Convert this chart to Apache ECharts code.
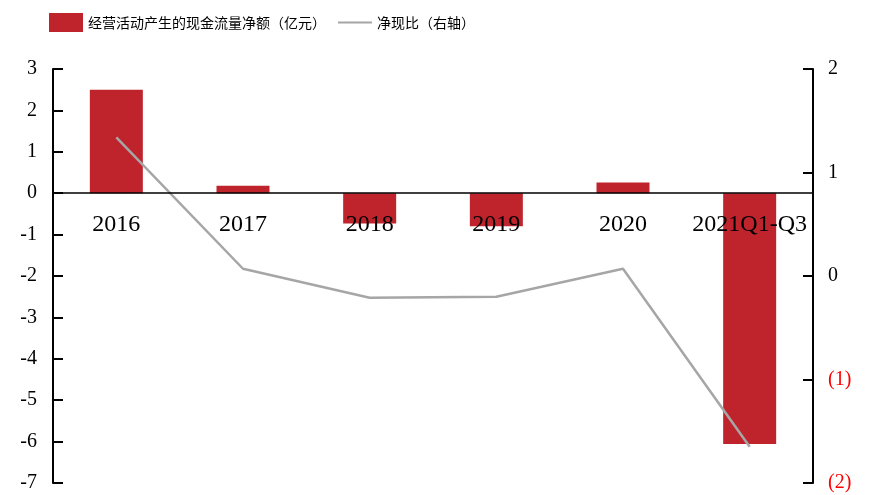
<!DOCTYPE html>
<html>
<head>
<meta charset="utf-8">
<script src="https://cdn.jsdelivr.net/npm/echarts@6/dist/echarts.min.js"></script>
<style>
  html, body { margin: 0; padding: 0; background: #fff; }
  #chart { width: 870px; height: 495px; }
</style>
</head>
<body>
<div id="chart"></div>
<script>
// 年份 / 区间
const categories = ['2016', '2017', '2018', '2019', '2020', '2021Q1-Q3'];
// 经营活动产生的现金流量净额（亿元）
const operatingCashFlow = [2.50, 0.18, -0.73, -0.80, 0.26, -6.06];
// 净现比
const netCashRatio = [1.34, 0.07, -0.21, -0.20, 0.07, -1.65];
// 刻度
const leftTicks = { min: -7, max: 3, step: 1 };
const rightTicks = { min: -2, max: 2, step: 1 };

const barName = '经营活动产生的现金流量净额（亿元）';
const lineName = '净现比（右轴）';
const serif = '"Liberation Serif", "Times New Roman", serif';
const cjk = '"Noto Sans CJK SC", sans-serif';

const W = 870, H = 495;
const gridBox = { left: 53, right: 57, top: 69, bottom: 12 };
const plotHeight = H - gridBox.top - gridBox.bottom;
// 分类轴放在左轴 0 值处：由底边上移的距离
const zeroLift = plotHeight * (0 - leftTicks.min) / (leftTicks.max - leftTicks.min);

const chart = echarts.init(document.getElementById('chart'), null, { renderer: 'canvas' });

const axisLineStyle = { color: '#000', width: 2 };

chart.setOption({
  animation: false,
  backgroundColor: '#fff',
  legend: {
    top: 8,
    left: 44,
    itemWidth: 34,
    itemHeight: 19,
    itemGap: 11,
    textStyle: { fontFamily: cjk, fontSize: 14, color: '#000' },
    data: [
      { name: barName, icon: 'rect' },
      { name: lineName, itemStyle: { opacity: 0 } }
    ]
  },
  grid: Object.assign({ containLabel: false, outerBoundsMode: 'none' }, gridBox),
  xAxis: {
    type: 'category',
    data: categories,
    position: 'bottom',
    offset: -zeroLift,
    axisLine: { show: true, onZero: false, lineStyle: { color: '#000', width: 1.5 } },
    axisTick: { show: false },
    axisLabel: {
      margin: 20,
      fontFamily: serif,
      fontSize: 24,
      color: '#000',
      interval: 0
    },
    z: 5
  },
  yAxis: [
    {
      type: 'value',
      min: leftTicks.min,
      max: leftTicks.max,
      interval: leftTicks.step,
      splitLine: { show: false },
      axisLine: { show: true, lineStyle: axisLineStyle },
      axisTick: { show: true, inside: true, length: 10, lineStyle: axisLineStyle },
      axisLabel: { margin: 16, fontFamily: serif, fontSize: 20, color: '#000' }
    },
    {
      type: 'value',
      position: 'right',
      min: rightTicks.min,
      max: rightTicks.max,
      interval: rightTicks.step,
      splitLine: { show: false },
      axisLine: { show: true, lineStyle: axisLineStyle },
      axisTick: { show: true, inside: true, length: 10, lineStyle: axisLineStyle },
      axisLabel: {
        margin: 15,
        fontFamily: serif,
        fontSize: 20,
        formatter: v => (v < 0 ? '(' + Math.abs(v) + ')' : String(v)),
        color: v => (Number(v) < 0 ? '#ff0000' : '#000')
      }
    }
  ],
  series: [
    {
      name: barName,
      type: 'bar',
      yAxisIndex: 0,
      data: operatingCashFlow,
      barWidth: 53,
      itemStyle: { color: '#BF242D' },
      z: 2
    },
    {
      name: lineName,
      type: 'line',
      yAxisIndex: 1,
      data: netCashRatio,
      symbol: 'none',
      lineStyle: { color: '#A6A6A6', width: 2.5 },
      itemStyle: { color: '#A6A6A6' },
      z: 3
    }
  ]
});
</script>
</body>
</html>
